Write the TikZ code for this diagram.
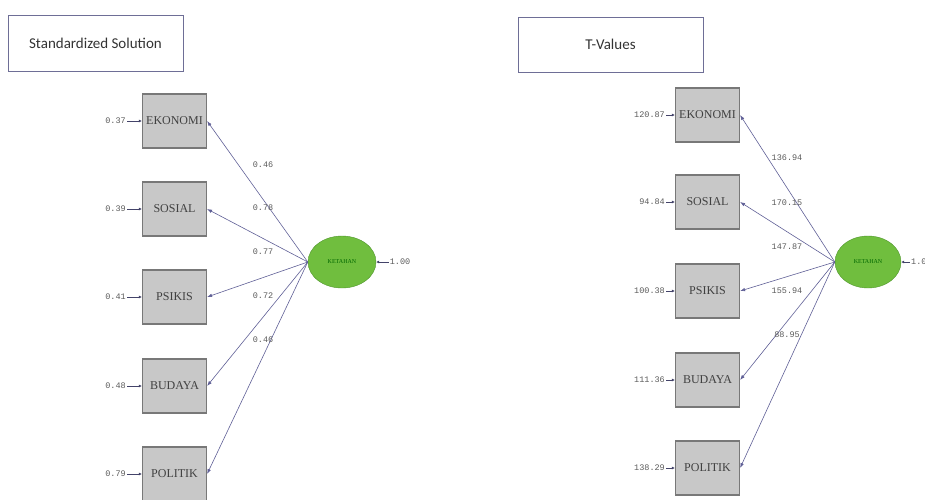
\documentclass[tikz,border=0pt]{standalone}
\usepackage{fontspec}
\setmainfont{Liberation Serif}
\newfontfamily\titlefont{Carlito}
\newfontfamily\numfont{Liberation Mono}
\usetikzlibrary{arrows.meta,shapes.geometric}
\definecolor{boxgray}{RGB}{200,200,200}
\definecolor{boxedge}{RGB}{120,120,120}
\definecolor{latgreen}{RGB}{112,190,62}
\definecolor{latedge}{RGB}{80,150,45}
\definecolor{pathblue}{RGB}{95,95,150}
\definecolor{numgray}{RGB}{90,90,90}
\definecolor{titleedge}{RGB}{110,110,150}
\begin{document}
\begin{tikzpicture}[x=1pt,y=-1pt,
  title/.style={draw=titleedge,line width=1pt,minimum width=175pt,minimum height=56pt,font=\titlefont\fontsize{15}{15}\selectfont,text=black!80},
  ind/.style={draw=boxedge,line width=1.2pt,fill=boxgray,minimum width=64pt,minimum height=54pt,inner sep=0pt,font=\fontsize{12}{12}\selectfont,text=black!75},
  lat/.style={ellipse,draw=latedge,fill=latgreen,minimum width=68pt,minimum height=52pt,inner sep=0pt,font=\fontsize{6}{6}\selectfont,text=black!60!green},
  num/.style={font=\numfont\fontsize{8.5}{8.5}\selectfont,text=numgray,inner sep=1pt},
  load/.style={draw=pathblue,line width=0.6pt,-{Latex[length=5pt,width=3.5pt]}},
  err/.style={draw=pathblue!70!black,line width=0.8pt,-{Latex[length=3pt,width=3pt]}}]
  \useasboundingbox (0,0) rectangle (925,499);
  % left panel
  \node[title] (stdtitle) at (95.5,43.5) {Standardized Solution};
  \node[ind] (ekoL) at (174.5,121) {EKONOMI};
  \node[ind] (sosL) at (174.5,209) {SOSIAL};
  \node[ind] (psiL) at (174.5,297) {PSIKIS};
  \node[ind] (budL) at (174.5,386) {BUDAYA};
  \node[ind] (polL) at (174.5,474) {POLITIK};
  \node[lat] (latL) at (342,262) {KETAHAN};
  \node[num,anchor=east] (eEkoL) at (127,121) {0.37};
  \node[num,anchor=east] (eSosL) at (127,209) {0.39};
  \node[num,anchor=east] (ePsiL) at (127,297) {0.41};
  \node[num,anchor=east] (eBudL) at (127,386) {0.48};
  \node[num,anchor=east] (ePolL) at (127,474) {0.79};
  \node[num] (eLatL) at (400,262) {1.00};
  \draw[err] (eEkoL) -- (ekoL);
  \draw[err] (eSosL) -- (sosL);
  \draw[err] (ePsiL) -- (psiL);
  \draw[err] (eBudL) -- (budL);
  \draw[err] (ePolL) -- (polL);
  \draw[err] (eLatL) -- (latL);
  \draw[load] (latL.west) -- (ekoL.east);
  \draw[load] (latL.west) -- (sosL.east);
  \draw[load] (latL.west) -- (psiL.east);
  \draw[load] (latL.west) -- (budL.east);
  \draw[load] (latL.west) -- (polL.east);
  \node[num] (lEkoL) at (263,165) {0.46};
  \node[num] (lSosL) at (263,208) {0.78};
  \node[num] (lPsiL) at (263,252) {0.77};
  \node[num] (lBudL) at (263,296) {0.72};
  \node[num] (lPolL) at (263,340) {0.46};
  % right panel
  \node[title,minimum width=185pt,minimum height=55pt] (ttitle) at (610.5,44.5) {T-Values};
  \node[ind] (ekoR) at (707.5,115) {EKONOMI};
  \node[ind] (sosR) at (707.5,202) {SOSIAL};
  \node[ind] (psiR) at (707.5,291) {PSIKIS};
  \node[ind] (budR) at (707.5,380) {BUDAYA};
  \node[ind] (polR) at (707.5,468) {POLITIK};
  \node[lat,minimum width=66pt] (latR) at (868,262) {KETAHAN};
  \node[num,anchor=east] (eEkoR) at (666,115) {120.87};
  \node[num,anchor=east] (eSosR) at (666,202) {94.84};
  \node[num,anchor=east] (ePsiR) at (666,291) {100.38};
  \node[num,anchor=east] (eBudR) at (666,380) {111.36};
  \node[num,anchor=east] (ePolR) at (666,468) {138.29};
  \node[num,anchor=west] (eLatR) at (910,262) {1.00};
  \draw[err] (eEkoR) -- (ekoR);
  \draw[err] (eSosR) -- (sosR);
  \draw[err] (ePsiR) -- (psiR);
  \draw[err] (eBudR) -- (budR);
  \draw[err] (ePolR) -- (polR);
  \draw[err] (eLatR) -- (latR);
  \draw[load] (latR.west) -- (ekoR.east);
  \draw[load] (latR.west) -- (sosR.east);
  \draw[load] (latR.west) -- (psiR.east);
  \draw[load] (latR.west) -- (budR.east);
  \draw[load] (latR.west) -- (polR.east);
  \node[num] (lEkoR) at (787,158) {136.94};
  \node[num] (lSosR) at (787,203) {170.15};
  \node[num] (lPsiR) at (787,247) {147.87};
  \node[num] (lBudR) at (787,291) {155.94};
  \node[num] (lPolR) at (787,335) {88.95};
\end{tikzpicture}
\end{document}
